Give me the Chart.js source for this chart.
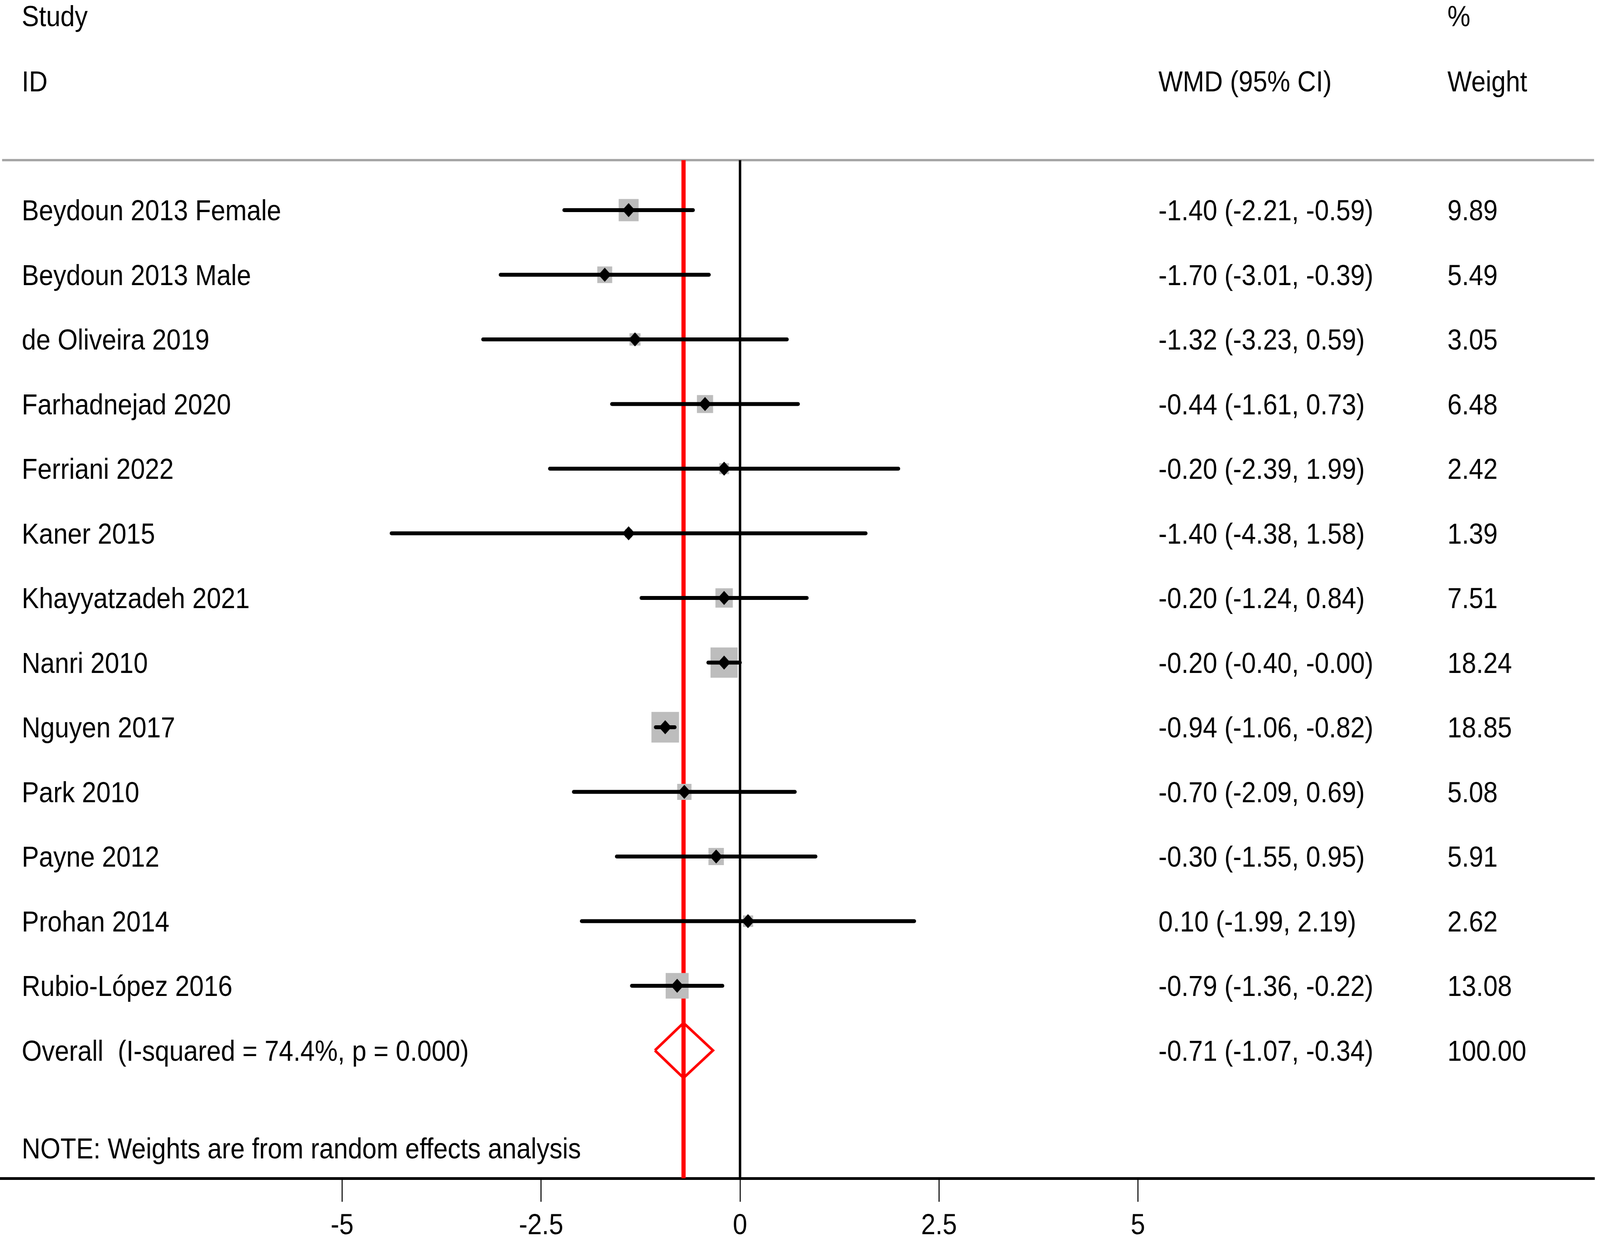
<!DOCTYPE html>
<html>
<head>
<meta charset="utf-8">
<title>Forest plot</title>
<script src="https://cdn.jsdelivr.net/npm/chart.js@4.4.0/dist/chart.umd.min.js"></script>
<style>
  html, body { margin: 0; padding: 0; background: #fff; overflow: hidden; }
  #wrap { width: 4562px; height: 3180px; transform-origin: 0 0; }
  canvas { display: block; }
</style>
</head>
<body>
<div id="wrap"><canvas id="forest" width="4562" height="3180"></canvas></div>
<script>
// rows, top to bottom
const studies = [
  "Beydoun 2013 Female", "Beydoun 2013 Male", "de Oliveira 2019", "Farhadnejad 2020",
  "Ferriani 2022", "Kaner 2015", "Khayyatzadeh 2021", "Nanri 2010", "Nguyen 2017",
  "Park 2010", "Payne 2012", "Prohan 2014", "Rubio-López 2016"
];
const wmd    = [-1.40, -1.70, -1.32, -0.44, -0.20, -1.40, -0.20, -0.20, -0.94, -0.70, -0.30, 0.10, -0.79];
const ciLow  = [-2.21, -3.01, -3.23, -1.61, -2.39, -4.38, -1.24, -0.40, -1.06, -2.09, -1.55, -1.99, -1.36];
const ciHigh = [-0.59, -0.39, 0.59, 0.73, 1.99, 1.58, 0.84, -0.00, -0.82, 0.69, 0.95, 2.19, -0.22];
const weights = [9.89, 5.49, 3.05, 6.48, 2.42, 1.39, 7.51, 18.24, 18.85, 5.08, 5.91, 2.62, 13.08];

const overallLabel = "Overall  (I-squared = 74.4%, p = 0.000)";
const overallWmd = -0.71;
const overallLow = -1.07;
const overallHigh = -0.34;
const overallWeight = 100.00;

const xTicks = [-5, -2.5, 0, 2.5, 5];
const noteText = "NOTE: Weights are from random effects analysis";

// the sheet is 4562 x 3180; squeeze it into whatever the window really is
const wrap = document.getElementById("wrap");
wrap.style.transform = "scale(" + (window.innerWidth / 4562) + "," + (window.innerHeight / 3180) + ")";

const FONT = '"Liberation Sans", Arial, "Noto Sans", sans-serif';
const FS = 73.5;
const unitPx = 226.9;        // px per unit on x
const zeroPx = 2110;
const rightPx = 4545;
const rowTop = 538, rowStep = 165.5, axisY = 3017;
const xMin = -zeroPx / unitPx;
const xMax = (rightPx - zeroPx) / unitPx;
const yMin = -rowTop / rowStep;
const yMax = (axisY - rowTop) / rowStep;
const ruleRow = (410 - rowTop) / rowStep;
const overallRow = studies.length;
const diamondHalf = 0.426;

function fmt(v) {
  let neg = v < 0 || Object.is(v, -0);
  return (neg ? "-" : "") + Math.abs(v).toFixed(2);
}
function boxSide(w) { return 18.1 * Math.sqrt(w); }

let datasets = [];

// pooled estimate line (red) and null line
datasets.push({
  data: [{x: overallWmd, y: ruleRow}, {x: overallWmd, y: yMax}],
  showLine: true, borderColor: "#ff0000", borderWidth: 12, pointRadius: 0, order: 10
});
datasets.push({
  data: [{x: 0, y: ruleRow}, {x: 0, y: yMax}],
  showLine: true, borderColor: "#000", borderWidth: 7, pointRadius: 0, order: 9
});

// weight boxes
datasets.push({
  data: wmd.map((v, i) => ({x: v, y: i})),
  pointStyle: "rect",
  pointRadius: ctx => boxSide(weights[ctx.dataIndex]) / Math.SQRT2,
  backgroundColor: "#bdbdbd", borderWidth: 0, order: 6
});

// confidence intervals
studies.forEach((s, i) => {
  datasets.push({
    data: [{x: ciLow[i], y: i}, {x: ciHigh[i], y: i}],
    showLine: true, borderColor: "#000", borderWidth: 10, borderCapStyle: "round",
    pointRadius: 0, order: 5
  });
});

// point estimates
datasets.push({
  data: wmd.map((v, i) => ({x: v, y: i})),
  pointStyle: "rectRot", pointRadius: 18,
  backgroundColor: "#000", borderWidth: 0, order: 4
});

// overall diamond
datasets.push({
  data: [
    {x: overallLow, y: overallRow},
    {x: overallWmd, y: overallRow - diamondHalf},
    {x: overallHigh, y: overallRow},
    {x: overallWmd, y: overallRow + diamondHalf},
    {x: overallLow, y: overallRow}
  ],
  showLine: true, borderColor: "#ff0000", borderWidth: 7, borderJoinStyle: "miter",
  pointRadius: 0, fill: false, order: 3
});

const textPlugin = {
  id: "forestText",
  beforeDatasetsDraw(chart) {
    const ctx = chart.ctx;
    const y = chart.scales.y.getPixelForValue(ruleRow);
    ctx.save();
    ctx.strokeStyle = "#a6a6a6";
    ctx.lineWidth = 6;
    ctx.beginPath();
    ctx.moveTo(6, y);
    ctx.lineTo(rightPx, y);
    ctx.stroke();
    ctx.restore();
  },
  afterDraw(chart) {
    const ctx = chart.ctx;
    const ys = chart.scales.y;
    ctx.save();
    ctx.fillStyle = "#000";
    ctx.font = FS + "px " + FONT;
    ctx.textBaseline = "alphabetic";
    ctx.textAlign = "left";
    const colStudy = 62, colWmd = 3303, colWeight = 4127;
    const off = FS * 0.358;

    ctx.fillText("Study", colStudy, 67);
    ctx.fillText("ID", colStudy, 234);
    ctx.fillText("WMD (95% CI)", colWmd, 234);
    ctx.fillText("%", colWeight, 67);
    ctx.fillText("Weight", colWeight, 234);

    studies.forEach((s, i) => {
      const y = ys.getPixelForValue(i) + off;
      ctx.fillText(s, colStudy, y);
      ctx.fillText(fmt(wmd[i]) + " (" + fmt(ciLow[i]) + ", " + fmt(ciHigh[i]) + ")", colWmd, y);
      ctx.fillText(weights[i].toFixed(2), colWeight, y);
    });
    const yo = ys.getPixelForValue(overallRow) + off;
    ctx.fillText(overallLabel, colStudy, yo);
    ctx.fillText(fmt(overallWmd) + " (" + fmt(overallLow) + ", " + fmt(overallHigh) + ")", colWmd, yo);
    ctx.fillText(overallWeight.toFixed(2), colWeight, yo);

    ctx.fillText(noteText, colStudy, 2966);
    ctx.restore();
  }
};

new Chart(document.getElementById("forest"), {
  type: "scatter",
  data: { datasets: datasets },
  options: {
    responsive: false,
    devicePixelRatio: 1,
    animation: false,
    events: [],
    layout: { autoPadding: false, padding: { left: 0, right: 4562 - rightPx, top: 0, bottom: 0 } },
    plugins: { legend: { display: false }, tooltip: { enabled: false } },
    scales: {
      x: {
        type: "linear", min: xMin, max: xMax,
        afterBuildTicks: s => { s.ticks = xTicks.map(v => ({value: v})); },
        afterFit: s => { s.height = 3180 - axisY; },
        grid: { drawOnChartArea: false, drawTicks: true, tickLength: 60, lineWidth: 3, color: "#000" },
        border: { display: true, width: 7, color: "#000" },
        ticks: {
          color: "#000", padding: 19, maxRotation: 0, autoSkip: false,
          font: { family: FONT, size: FS, lineHeight: 1.2 },
          callback: v => String(v)
        }
      },
      y: { type: "linear", display: false, reverse: true, min: yMin, max: yMax }
    }
  },
  plugins: [textPlugin]
});
</script>
</body>
</html>
